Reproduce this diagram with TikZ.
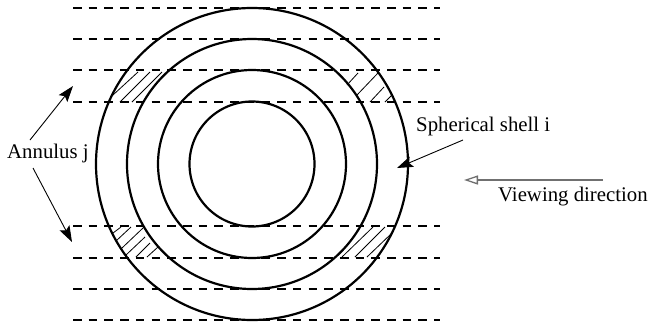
\documentclass[tikz,border=0pt]{standalone}
\usepackage{xcolor}
\usepackage{fontspec}
\setmainfont{Liberation Serif}
\usetikzlibrary{arrows.meta, positioning}
\definecolor{viewgray}{HTML}{707070}

\begin{document}
\begin{tikzpicture}[
    x=1pt, y=-1pt,
    shell/.style={circle, draw, line width=2.2pt, inner sep=0pt},
    annulus/.style={dashed, line width=2.7pt, dash pattern=on 8.6pt off 7.1pt},
    hatchline/.style={line width=0.8pt},
    label/.style={font=\fontsize{20.8}{24}\selectfont, inner sep=0pt},
    arrow/.style={-{Stealth[length=16pt, width=11pt, inset=3pt]}, line width=0.9pt},
    viewarrow/.style={-{Triangle[open, length=14pt, width=9pt]}, line width=1.3pt, color=viewgray}
  ]
    \useasboundingbox (0,0) rectangle (651,330);
    \coordinate (center) at (252,164);

    \node[shell, minimum size=125pt] (shella) at (center) {};
    \node[shell, minimum size=188pt] (shellb) at (center) {};
    \node[shell, minimum size=250pt] (shellc) at (center) {};
    \node[shell, minimum size=312pt] (shelld) at (center) {};

    % annuli
    \foreach \yy in {8,39,70,102,226,258,289,320}
      \draw[annulus] (73,\yy) -- (440,\yy);

    % hatching, top left
    \draw[hatchline] (113,95) -- (138,72);
    \draw[hatchline] (120,102) -- (150,72);
    \draw[hatchline] (132,102) -- (162,72);
    % hatching, top right
    \draw[hatchline] (347,85) -- (358,73);
    \draw[hatchline] (357,95) -- (378,73);
    \draw[hatchline] (370,102) -- (384,87);
    \draw[hatchline] (385,102) -- (392,95);
    % hatching, bottom left
    \draw[hatchline] (113,233) -- (121,227);
    \draw[hatchline] (116,241) -- (131,227);
    \draw[hatchline] (122,248) -- (143,228);
    \draw[hatchline] (126,255) -- (145,237);
    \draw[hatchline] (136,257) -- (150,243);
    \draw[hatchline] (147,257) -- (158,247);
    % hatching, bottom right
    \draw[hatchline] (342,257) -- (373,227);
    \draw[hatchline] (355,257) -- (385,227);
    \draw[hatchline] (367,257) -- (392,233);

    \node[label, anchor=west] (annj) at (7,153) {Annulus j};
    \node[label, anchor=west] (sph) at (416,126) {Spherical shell i};
    \node[label, anchor=west] (view) at (498,197) {Viewing direction};

    \coordinate (annjup) at (30,140);
    \coordinate (annjdown) at (33,168);
    \coordinate (uptip) at (73,86);
    \coordinate (downtip) at (72,242);
    \coordinate (sphtail) at (463,140);
    \coordinate (sphtip) at (397,168);
    \coordinate (viewtail) at (603,180);
    \coordinate (viewtip) at (464,180);

    \draw[arrow] (annjup) -- (uptip);
    \draw[arrow] (annjdown) -- (downtip);
    \draw[arrow] (sphtail) -- (sphtip);
    \draw[viewarrow] (viewtail) -- (viewtip);
\end{tikzpicture}
\end{document}
